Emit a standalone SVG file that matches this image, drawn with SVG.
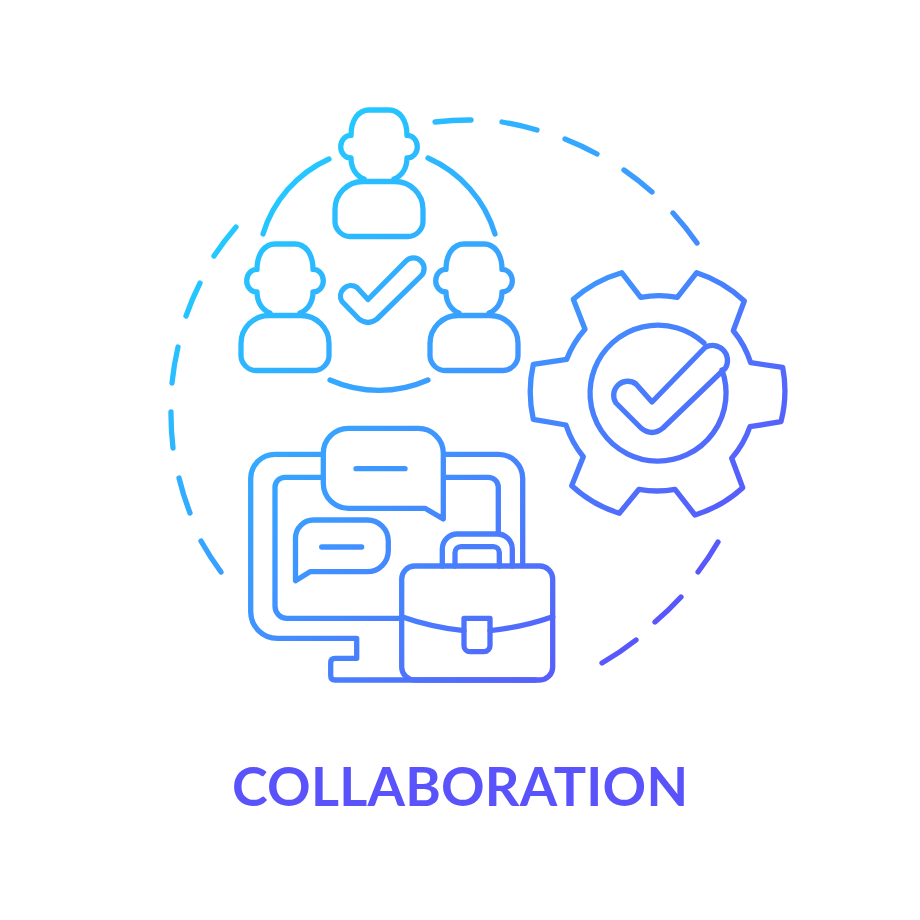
<svg xmlns="http://www.w3.org/2000/svg" width="920" height="920" viewBox="0 0 920 920">
<defs>
<linearGradient id="g" gradientUnits="userSpaceOnUse" x1="250" y1="170" x2="700" y2="620">
<stop offset="0" stop-color="#20ceff"/><stop offset="0.5" stop-color="#3f95ff"/><stop offset="1" stop-color="#5c50fb"/>
</linearGradient>
</defs>
<style>
path{fill:none;stroke:url(#g);stroke-width:5.300;stroke-linecap:round;stroke-linejoin:round}
text{font-family:"Lato","Liberation Sans",sans-serif;font-weight:700;font-size:54px;fill:#5a52fa;text-anchor:middle}
</style>
<rect width="920" height="920" fill="#fff"/>
<g id="connectors">
<path id="dashed-ring" d="M435 122A289 289 0 0 1 471 120M502 122A289 289 0 0 1 537 130M565 139A289 289 0 0 1 597 154M624 170A289 289 0 0 1 652 192M673 213A289 289 0 0 1 697 243M718 542A289 289 0 0 1 698 572M681 597A289 289 0 0 1 655 622M636 640A289 289 0 0 1 602 663M221 572A289 289 0 0 1 201 541M190 513A289 289 0 0 1 179 478M173 448A289 289 0 0 1 171 412M172 383A289 289 0 0 1 178 347M186 316A289 289 0 0 1 200 283M214 256A289 289 0 0 1 236 227"/>
<path id="team-ring" d="M263 234A121 121 0 0 1 329 159M428 158A121 121 0 0 1 495 234M428 380A121 121 0 0 1 330 380"/>
</g>
<g id="person-top">
<path d="M364 179c-8-3-13-11-13-21c-6 0-10.300-5-10.300-11.300s4.300-11.300 10.300-11.300c0-16 8-25.400 18-25.400h20c10 0 18 9.400 18 25.400c6 0 10.300 5 10.300 11.300s-4.300 11.300-10.300 11.300c0 10-5 18-13 21"/>
<path d="M363 181.500h32c15.500 0 28 12.500 28 28v12c0 8-7 15-15 15h-58c-8 0-15-7-15-15v-12c0-15.500 12.500-28 28-28z"/>
</g>
<g id="person-left">
<path d="M270 313c-8-3-13-11-13-21c-6 0-10.300-5-10.300-11.300s4.300-11.300 10.300-11.300c0-16 8-25.400 18-25.400h20c10 0 18 9.400 18 25.400c6 0 10.300 5 10.300 11.300s-4.300 11.300-10.300 11.300c0 10-5 18-13 21"/>
<path d="M269 315.500h32c15.500 0 28 12.500 28 28v12c0 8-7 15-15 15h-58c-8 0-15-7-15-15v-12c0-15.500 12.500-28 28-28z"/>
</g>
<g id="person-right">
<path d="M459 313c-8-3-13-11-13-21c-6 0-10.300-5-10.300-11.300s4.300-11.300 10.300-11.300c0-16 8-25.400 18-25.400h20c10 0 18 9.400 18 25.400c6 0 10.300 5 10.300 11.300s-4.300 11.300-10.300 11.300c0 10-5 18-13 21"/>
<path d="M458 315.500h32c15.500 0 28 12.500 28 28v12c0 8-7 15-15 15h-58c-8 0-15-7-15-15v-12c0-15.500 12.500-28 28-28z"/>
</g>
<g id="team-check">
<path d="M368 299.500L406 261A10.500 10.500 0 0 1 421 276L377 319Q368 326 359 319L342 301.500A10.500 10.500 0 0 1 357 287.500Z"/>
</g>
<g id="gear">
<path d="M621.700 272.700L640.700 297.300A97 97 0 0 1 677.300 297.300L696.700 272.700A125 125 0 0 1 744.300 301L733.300 330.700A97 97 0 0 1 750.700 362.700L782.700 367.300A125 125 0 0 1 781 421.700L750 426.700A97 97 0 0 1 731.700 458.300L742.700 487.700A125 125 0 0 1 695 515L675 489.300A97 97 0 0 1 639 489.300L619.300 513.300A125 125 0 0 1 571.700 485.700L583.300 456.700A97 97 0 0 1 566 425L533.300 419.300A125 125 0 0 1 533.300 364.300L566.700 359.300A97 97 0 0 1 585 329.300L573.300 299.300A125 125 0 0 1 621.700 272.700Z"/>
<path d="M704 343A68 68 0 1 0 722 370"/>
<path d="M652 402L705 347.500A15 15 0 0 1 725.500 368L663 428Q652 437 641 428L616 403A14 14 0 0 1 636 384Z"/>
</g>
<g id="monitor">
<path d="M321.700 454.300H275A24.300 24.300 0 0 0 250.700 478.600V611.700A26.600 26.600 0 0 0 277.300 638.300H356.700V658.300H335Q330.700 658.300 330.700 662.700V675.500Q330.700 680 335 680H535"/>
<path d="M445.700 454.300H498.300A24.300 24.300 0 0 1 522.700 478.600V563.500"/>
<path d="M321.700 477.300H285A10 10 0 0 0 275 487.300V606.300A12 12 0 0 0 287 618.300H400"/>
<path d="M445.700 477.300H488.300A10 10 0 0 1 498.300 487.300V533"/>
</g>
<g id="bubble-large">
<path d="M425 508.300L443.300 519V453A25 25 0 0 0 418.300 428.300H348.300A25 25 0 0 0 323.300 453.300V483.300A25 25 0 0 0 348.300 508.300Z"/>
<path d="M356 468.700H405"/>
</g>
<g id="bubble-small">
<path d="M295.500 580.700V538A18 18 0 0 1 313.500 520H367.300A21 21 0 0 1 388.300 541V550.700A21 21 0 0 1 367.300 571.700H310Z"/>
<path d="M321.700 547H361.700"/>
</g>
<g id="briefcase">
<path d="M414.700 566H539.700A13 13 0 0 1 552.700 579V667A13 13 0 0 1 539.700 680H414.700A13 13 0 0 1 401.700 667V579A13 13 0 0 1 414.700 566Z"/>
<path d="M442.300 566V549A15 15 0 0 1 457.300 534H497.300A15 15 0 0 1 512.300 549V566"/>
<path d="M455 566V552.700A6 6 0 0 1 461 546.700H493.300A6 6 0 0 1 499.300 552.700V566"/>
<path d="M401.700 616.700Q431 627 464 630.700M490 630.700Q523 627 552.700 616.700"/>
<path d="M464 618.300H490V645.700A6 6 0 0 1 484 651.700H470A6 6 0 0 1 464 645.700Z"/>
</g>
<text x="460" y="806" textLength="456" lengthAdjust="spacing">COLLABORATION</text>
</svg>
